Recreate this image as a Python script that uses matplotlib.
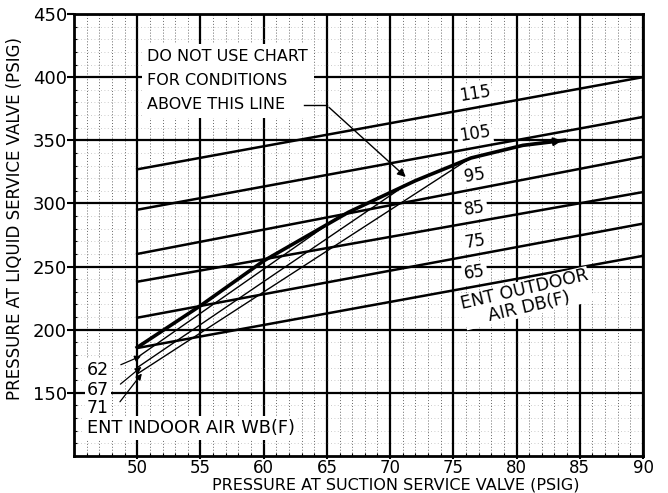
import matplotlib.pyplot as plt
import numpy as np

# outdoor dry bulb lines: value at 50 and at 90 psig suction
db_temps = [65, 75, 85, 95, 105, 115]
db_at50 = [185.5, 209.5, 238, 260, 295, 327]
db_at90 = [258.5, 284, 309, 337, 368.5, 400]

# limit line ("do not use chart above this line")
limit_x = [50, 55, 60, 66.7, 72, 76.4, 80.5, 83.8]
limit_y = [186, 219, 254.5, 293, 318, 336, 346, 350]

# indoor wet bulb lines
wb_temps = [62, 67, 71]
wb_x0 = [50, 50, 50]
wb_y0 = [178, 170, 165]
wb_x1 = [66, 71, 76.2]
wb_y1 = [290, 313, 335]

x_ticks = [50, 55, 60, 65, 70, 75, 80, 85, 90]
y_ticks = [150, 200, 250, 300, 350, 400, 450]

plt.rcParams['font.family'] = ['DejaVu Sans']
fig = plt.figure(figsize=(6.68, 4.93), dpi=100)
ax = fig.add_axes([74 / 668, 1 - 456 / 493, (643 - 74) / 668, (456 - 14) / 493])
ax.set_xlim(45, 90)
ax.set_ylim(100, 450)

# grid
ax.set_xticks(x_ticks)
ax.set_yticks(y_ticks)
ax.set_xticks(np.arange(45, 91, 1), minor=True)
ax.set_yticks(np.arange(100, 451, 10), minor=True)
ax.grid(which='major', color='black', lw=1.6, zorder=1)
ax.grid(which='minor', axis='x', color='#666666', lw=0.7, ls=(0, (1, 2)), zorder=0.5)
ax.grid(which='minor', axis='y', color='#bbbbbb', lw=0.6, ls=(0, (1, 3)), zorder=0.5)
for s in ax.spines.values():
    s.set_linewidth(2)
ax.tick_params(which='major', length=5, width=1.5, labelsize=13, pad=0)
ax.tick_params(axis='x', which='major', length=2, labelsize=12, pad=0)
ax.tick_params(which='minor', length=2, width=0.8, direction='in')

# dry bulb lines
xs = np.array([50, 90])
for t, a, b in zip(db_temps, db_at50, db_at90):
    ax.plot(xs, [a, b], color='black', lw=1.8, zorder=3)

# wet bulb lines
for x0, y0, x1, y1 in zip(wb_x0, wb_y0, wb_x1, wb_y1):
    ax.plot([x0, x1], [y0, y1], color='black', lw=1.0, zorder=3)

# limit line
ax.plot(limit_x, limit_y, color='black', lw=2.6, zorder=4)
ax.annotate('', xy=(limit_x[-1], limit_y[-1]), xytext=(limit_x[-2], limit_y[-2]),
            arrowprops=dict(arrowstyle='-|>', color='black', lw=1.5, mutation_scale=12), zorder=4)

wbox = dict(facecolor='white', edgecolor='none', pad=1.5)

# dry bulb labels
for t, a, b in zip(db_temps, db_at50, db_at90):
    xl = 76.7
    yl = a + (b - a) * (xl - 50) / 40 + 11
    ax.text(xl, yl, str(t), fontsize=12, ha='center', va='center', rotation=9,
            bbox=wbox, zorder=5)

ax.text(80.8, 225, 'ENT OUTDOOR\nAIR DB(F)', fontsize=12.5, ha='center', va='center',
        rotation=13, linespacing=1.0, bbox=dict(facecolor='white', edgecolor='none', pad=0), zorder=5)

# note block
ax.text(50.8, 397, 'DO NOT USE CHART\nFOR CONDITIONS\nABOVE THIS LINE', fontsize=11.5,
        ha='left', va='center', linespacing=1.75,
        bbox=dict(facecolor='white', edgecolor='none', pad=4), zorder=5)
ax.plot([63.2, 65.0], [377.6, 377.6], color='black', lw=1.0, zorder=5)
ax.annotate('', xy=(71.4, 319.5), xytext=(65.0, 377.6),
            arrowprops=dict(arrowstyle='-|>', color='black', lw=1.0, mutation_scale=12), zorder=5)

# wet bulb labels and leaders
lab_y = [168.4, 152.5, 138.2]
for t, ly, x0, y0 in zip(wb_temps, lab_y, wb_x0, wb_y0):
    ax.text(46.9, ly, str(t), fontsize=12.5, ha='center', va='center', bbox=wbox, zorder=5)
    ax.annotate('', xy=(x0 + 0.5, y0 + 2), xytext=(48.5, ly + 3),
                arrowprops=dict(arrowstyle='-|>', color='black', lw=0.9, mutation_scale=9), zorder=5)

ax.text(46.0, 122.3, 'ENT INDOOR AIR WB(F)', fontsize=12.8, ha='left', va='center',
        bbox=dict(facecolor='white', edgecolor='none', pad=2), zorder=5)

fig.text(396 / 668, 1 - 485 / 493, 'PRESSURE AT SUCTION SERVICE VALVE (PSIG)',
         fontsize=11.5, ha='center', va='center')
fig.text(15 / 668, 1 - 218 / 493, 'PRESSURE AT LIQUID SERVICE VALVE (PSIG)',
         fontsize=12, ha='center', va='center', rotation=90)

fig.savefig('out.png', dpi=100)
